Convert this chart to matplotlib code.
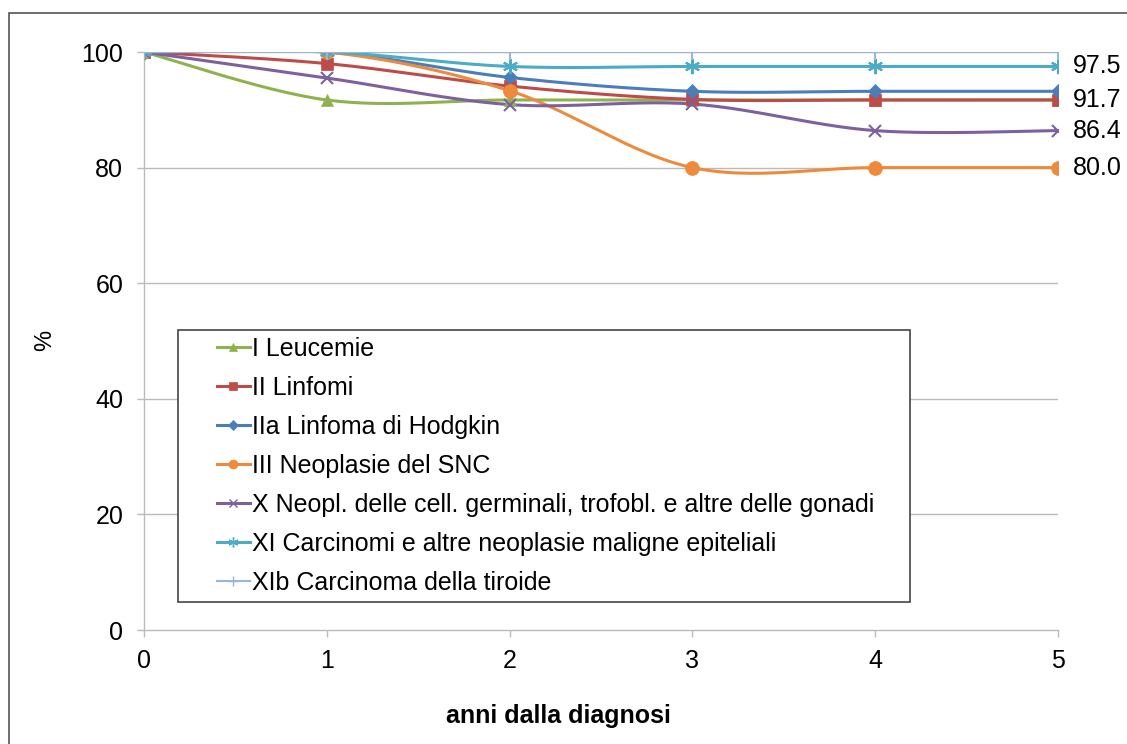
import numpy as np
import matplotlib.pyplot as plt
from matplotlib.patches import Rectangle

plt.rcParams['font.family'] = ['Liberation Sans', 'DejaVu Sans']

# Survival (%) by years since diagnosis
anni = [0, 1, 2, 3, 4, 5]
leucemie = [100, 91.7, 91.7, 91.7, 91.7, 91.7]
linfomi = [100, 98.0, 94.1, 91.8, 91.7, 91.7]
hodgkin = [100, 100, 95.6, 93.2, 93.2, 93.2]
snc = [100, 100, 93.3, 80.0, 80.0, 80.0]
germinali = [100, 95.5, 90.9, 91.0, 86.4, 86.4]
carcinomi = [100, 100, 97.5, 97.5, 97.5, 97.5]
tiroide = [100, 100, 100, 100, 100, 100]

nomi = ['I Leucemie', 'II Linfomi', 'IIa Linfoma di Hodgkin', 'III Neoplasie del SNC',
        'X Neopl. delle cell. germinali, trofobl. e altre delle gonadi',
        'XI Carcinomi e altre neoplasie maligne epiteliali',
        'XIb Carcinoma della tiroide']
serie = [leucemie, linfomi, hodgkin, snc, germinali, carcinomi, tiroide]
colori = ['#8FB24F', '#BE4B48', '#4A7EBB', '#EE8A3C', '#7D60A0', '#4BACC6', '#9BB5DB']
marker = ['^', 's', 'D', 'o', 'x', (6, 2, 0), '+']
msize = [8.5, 8, 7.5, 10, 9, 11, 11]
lw = [2.2, 2.2, 2.2, 2.2, 2.2, 2.2, 1.5]

# values printed at the right end
etichette = [97.5, 91.7, 86.4, 80.0]


def smooth(x, y, n=30):
    # bezier smoothing between points, control points from neighbours
    x = np.asarray(x, float)
    y = np.asarray(y, float)
    p = np.column_stack([x, y])
    out = [p[0]]
    t = np.linspace(0, 1, n)[1:]
    for i in range(len(p) - 1):
        p0 = p[i - 1] if i > 0 else p[i]
        p3 = p[i + 2] if i + 2 < len(p) else p[i + 1]
        c1 = p[i] + (p[i + 1] - p0) / 6
        c2 = p[i + 1] - (p3 - p[i]) / 6
        seg = ((1 - t) ** 3)[:, None] * p[i] + (3 * (1 - t) ** 2 * t)[:, None] * c1 \
            + (3 * (1 - t) * t ** 2)[:, None] * c2 + (t ** 3)[:, None] * p[i + 1]
        out.extend(seg)
    out = np.array(out)
    return out[:, 0], out[:, 1]


W, H = 1127, 744
fig = plt.figure(figsize=(W / 100, H / 100), dpi=100)
ax = fig.add_axes([144 / W, 1 - 630 / H, 914 / W, 578 / H])

# outer chart frame
fig.patches.append(Rectangle((9 / W, -0.1), 1.2, 1 - 13 / H + 0.1,
                             transform=fig.transFigure, fill=False,
                             edgecolor='#555555', linewidth=1.2))

for yy in [20, 40, 60, 80, 100]:
    ax.plot([0, 5], [yy, yy], color='#BBBBBB', linewidth=1, zorder=1)

handles = []
for s, nome, c, m, ms, w in zip(serie, nomi, colori, marker, msize, lw):
    xs, ys = smooth(anni, s)
    ax.plot(xs, ys, color=c, linewidth=w, zorder=2, solid_capstyle='round')
    mew = 1.5 if m in ('x', '+', (6, 2, 0)) else 0.5
    ax.plot(anni, s, linestyle='none', marker=m, markersize=ms, color=c,
            markeredgecolor=c, markeredgewidth=mew, zorder=3)
    h, = ax.plot([], [], color=c, linewidth=w, marker=m, markersize=ms * 0.65,
                 markeredgewidth=1.0 if mew > 1 else 0.5)
    handles.append(h)

for v in etichette:
    ax.annotate(f'{v:.1f}', xy=(5, v), xytext=(10.5, 0), textcoords='offset points',
                ha='left', va='center', fontsize=18, annotation_clip=False)

ax.set_xlim(0, 5)
ax.set_ylim(0, 100)
ax.set_xticks(anni)
ax.set_yticks([0, 20, 40, 60, 80, 100])
ax.tick_params(axis='both', labelsize=18, color='#BBBBBB', length=5, width=1)
ax.tick_params(axis='x', pad=9)
ax.tick_params(axis='y', pad=10)
for side in ['top', 'right']:
    ax.spines[side].set_visible(False)
for side in ['left', 'bottom']:
    ax.spines[side].set_color('#BBBBBB')
    ax.spines[side].set_linewidth(1)
ax.patch.set_alpha(0)

fig.text(45 / W, 1 - 340 / H, '%', rotation=90, fontsize=17, ha='center', va='center')
fig.text(558 / W, 1 - 716 / H, 'anni dalla diagnosi', fontsize=18,
         fontweight='bold', ha='center', va='center')

# legend box
ax.add_patch(Rectangle((178 / W, 1 - 602 / H), 732 / W, 272 / H,
                       transform=fig.transFigure, facecolor='white',
                       edgecolor='#444444', linewidth=1.2, zorder=4, clip_on=False))
leg = ax.legend(handles, nomi, loc='upper left',
                bbox_to_anchor=(217 / W, 1 - 337 / H),
                bbox_transform=fig.transFigure, borderaxespad=0, borderpad=0,
                fontsize=18, frameon=False, labelspacing=0.6,
                handlelength=1.3, handletextpad=0.1)
leg.set_zorder(5)

fig.savefig('out.png', dpi=100)
